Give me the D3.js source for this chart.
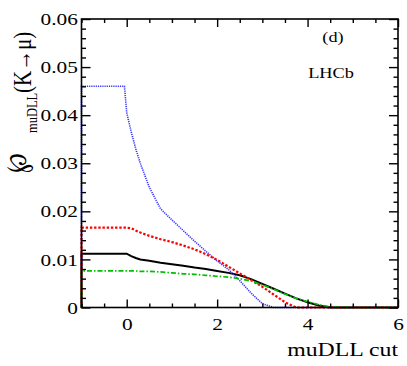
<!DOCTYPE html>
<html>
<head>
<meta charset="utf-8">
<script src="https://cdn.jsdelivr.net/npm/d3@7"></script>
<style>
  body { margin: 0; background: #fff; }
  svg { display: block; }
</style>
</head>
<body>
<div class="d3-div"></div>
<script>
// Cut values on the muDLL axis (shared by all four curves).
var cutValues = [-1, -0.05, 0, 0.1, 0.2, 0.3, 0.5, 0.75, 1.0, 1.25, 1.5, 1.75,
                 2.0, 2.25, 2.5, 2.75, 3.0, 3.25, 3.5, 3.75, 4.0, 4.25, 4.5, 5, 6];

// Misid rate K->mu for each sample.
var blueValues  = [0.046, 0.046, 0.0405, 0.0365, 0.033, 0.030, 0.025, 0.0205, 0.0182, 0.016, 0.0138, 0.0117,
                   0.0097, 0.0079, 0.0056, 0.003, 0.0008, 0, 0, 0, 0, 0, 0, 0, 0];
var redValues   = [0.0166, 0.0166, 0.0166, 0.0165, 0.016, 0.0156, 0.0149, 0.0142, 0.0136, 0.0129, 0.0121, 0.0111,
                   0.0099, 0.0085, 0.0071, 0.0057, 0.0043, 0.0027, 0.0011, 0, 0, 0, 0, 0, 0];
var blackValues = [0.0112, 0.0112, 0.0112, 0.0107, 0.0103, 0.0100, 0.0097, 0.0093, 0.0090, 0.0087, 0.0083, 0.0080,
                   0.0076, 0.0072, 0.0067, 0.0059, 0.0049, 0.0039, 0.0029, 0.0019, 0.0011, 0.0004, 0, 0, 0];
var greenValues = [0.0076, 0.0076, 0.0076, 0.0076, 0.0076, 0.0075, 0.0075, 0.0074, 0.0072, 0.0070, 0.0069, 0.0067,
                   0.0065, 0.0063, 0.0060, 0.0055, 0.0047, 0.0038, 0.0028, 0.0019, 0.0012, 0.0006, 0.0001, 0, 0];

// Tick labels.
var xTickLabels = [0, 2, 4, 6];
var yTickLabels = [0, 0.01, 0.02, 0.03, 0.04, 0.05, 0.06];

var width = 407;
var height = 366;
var margin = {left: 81.5, right: 9, top: 19, bottom: 58.5};
var stretch = 1.22;   // text in the original is wider than tall
var serif = "'Times New Roman', 'Liberation Serif', serif";

var svg = d3.select(".d3-div")
    .append("svg")
    .attr("width", width)
    .attr("height", height);

var x = d3.scaleLinear().domain([-1, 6]).range([margin.left, width - margin.right]);
var y = d3.scaleLinear().domain([0, 0.06]).range([height - margin.bottom, margin.top]);

// Curves.
var series = [
  {values: blackValues, color: "#000000", dash: null,           w: 2.0},
  {values: blueValues,  color: "#3333ff", dash: "1.2,1",        w: 1.6},
  {values: redValues,   color: "#ff0000", dash: "2.4,1.8",      w: 2.2},
  {values: greenValues, color: "#00c000", dash: "5,2,1.5,2",    w: 1.7}
];

var line = d3.line()
    .x(function(d) { return x(d[0]); })
    .y(function(d) { return y(d[1]); });

series.forEach(function(s) {
  var pts = [[-1, 0]].concat(cutValues.map(function(c, i) { return [c, s.values[i]]; }));
  svg.append("path")
    .datum(pts)
    .attr("d", line)
    .attr("fill", "none")
    .attr("stroke", s.color)
    .attr("stroke-width", s.w)
    .attr("stroke-dasharray", s.dash);
});

// Axes: ticks inward on all four sides.
var xMinor = d3.range(-1, 6.001, 0.5).filter(function(v) { return xTickLabels.indexOf(v) < 0; });
var yMinor = d3.range(0, 0.0601, 0.002).filter(function(v) {
  return !yTickLabels.some(function(t) { return Math.abs(t - v) < 1e-9; });
});

function styleAxis(g) {
  g.attr("font-family", null);
  g.select(".domain").remove();
  g.selectAll("line").attr("stroke", "#000").attr("stroke-width", 1.4);
}

var yFmt = function(d) { return d === 0 ? "0" : d3.format(".2f")(d); };

svg.append("g").attr("transform", "translate(0," + y(0) + ")")
  .call(d3.axisBottom(x).tickValues(xTickLabels).tickSize(-8).tickPadding(10).tickFormat(d3.format("d")))
  .call(styleAxis);
svg.append("g").attr("transform", "translate(0," + y(0) + ")")
  .call(d3.axisBottom(x).tickValues(xMinor).tickSize(-4).tickFormat(""))
  .call(styleAxis);
svg.append("g").attr("transform", "translate(0," + y(0.06) + ")")
  .call(d3.axisTop(x).tickValues(xTickLabels).tickSize(-8).tickFormat(""))
  .call(styleAxis);
svg.append("g").attr("transform", "translate(0," + y(0.06) + ")")
  .call(d3.axisTop(x).tickValues(xMinor).tickSize(-4).tickFormat(""))
  .call(styleAxis);

svg.append("g").attr("transform", "translate(" + x(-1) + ",0)")
  .call(d3.axisLeft(y).tickValues(yTickLabels).tickSize(-9).tickPadding(3).tickFormat(yFmt))
  .call(styleAxis);
svg.append("g").attr("transform", "translate(" + x(-1) + ",0)")
  .call(d3.axisLeft(y).tickValues(yMinor).tickSize(-4.5).tickFormat(""))
  .call(styleAxis);
svg.append("g").attr("transform", "translate(" + x(6) + ",0)")
  .call(d3.axisRight(y).tickValues(yTickLabels).tickSize(-9).tickFormat(""))
  .call(styleAxis);
svg.append("g").attr("transform", "translate(" + x(6) + ",0)")
  .call(d3.axisRight(y).tickValues(yMinor).tickSize(-4.5).tickFormat(""))
  .call(styleAxis);

// Tick label font, stretched like the original.
svg.selectAll(".tick text")
  .style("font-family", serif)
  .attr("font-size", 17.5)
  .attr("fill", "#000")
  .attr("transform", "scale(" + stretch + ",1)");

// Frame.
svg.append("rect")
  .attr("x", x(-1)).attr("y", y(0.06))
  .attr("width", x(6) - x(-1)).attr("height", y(0) - y(0.06))
  .attr("fill", "none").attr("stroke", "#000").attr("stroke-width", 1.6);

// Plain text helper.
function label(px, py, txt, size, anchor) {
  return svg.append("text")
    .attr("transform", "translate(" + px + "," + py + ") scale(" + stretch + ",1)")
    .style("font-family", serif)
    .attr("font-size", size)
    .attr("text-anchor", anchor)
    .text(txt);
}

label(x(6), 356, "muDLL cut", 19.5, "end");
label(333, 42, "(d)", 15, "middle");
label(331, 78, "LHCb", 15, "middle");

// Y title: script P with subscript, then (K->mu), rotated.
var yTitle = svg.append("g")
  .attr("transform", "translate(37,175) scale(" + stretch + ",1) rotate(-90)")
  .style("font-family", serif);
yTitle.append("text").attr("x", 2).attr("y", -9)
  .attr("font-size", 24).text("\u2118");
yTitle.append("text").attr("x", 42).attr("y", 0)
  .attr("font-size", 12.5).text("muDLL");
yTitle.append("text").attr("x", 82).attr("y", -5)
  .attr("font-size", 21)
  .text("(K\u2192\u03bc)");
</script>
</body>
</html>
